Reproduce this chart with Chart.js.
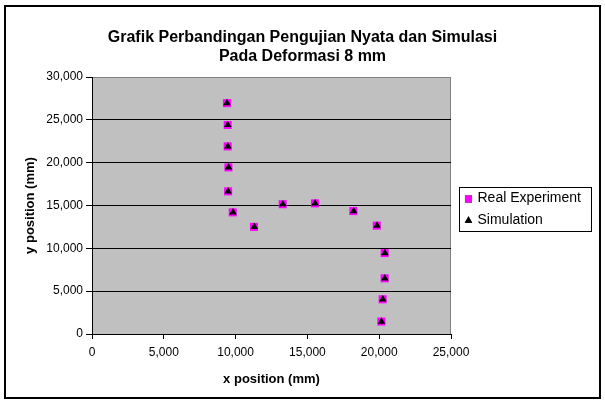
<!DOCTYPE html>
<html>
<head>
<meta charset="utf-8">
<script src="https://cdn.jsdelivr.net/npm/chart.js@4"></script>
<style>
  html, body { margin: 0; padding: 0; background: #fff; }
  #wrap { width: 605px; height: 402px; }
</style>
</head>
<body>
<div id="wrap"><canvas id="chart" width="605" height="402"></canvas></div>
<script>
// Data (mm)
const realX = [9400, 9450, 9450, 9500, 9480, 9800, 11280, 13280, 15530, 18200, 19830, 20380, 20380, 20240, 20150];
const realY = [26950, 24400, 21900, 19450, 16650, 14200, 12500, 15150, 15250, 14350, 12650, 9450, 6500, 4050, 1450];
const simX = [9400, 9450, 9460, 9510, 9480, 9820, 11300, 13290, 15540, 18220, 19850, 20400, 20390, 20250, 20160];
const simY = [26950, 24400, 21900, 19450, 16650, 14200, 12500, 15150, 15250, 14350, 12650, 9450, 6500, 4050, 1450];
const seriesNames = ['Real Experiment', 'Simulation'];
const titleLines = ['Grafik Perbandingan Pengujian Nyata dan Simulasi', 'Pada Deformasi 8 mm'];
const xTitle = 'x position (mm)';
const yTitle = 'y position (mm)';

const FONT = '"Liberation Sans", Arial, sans-serif';
const toPoints = (xs, ys) => xs.map((x, i) => ({ x: x, y: ys[i] }));
const fmt = v => Number(v).toLocaleString('en-US');

// background of plot, outer frame and boxed legend
const frame = {
    id: 'frame',
    beforeDraw(chart) {
        const { ctx, chartArea: a } = chart;
        ctx.save();
        ctx.fillStyle = '#fff';
        ctx.fillRect(0, 0, chart.width, chart.height);
        ctx.fillStyle = '#c0c0c0';
        ctx.fillRect(a.left, a.top, a.right - a.left, a.bottom - a.top);
        ctx.strokeStyle = '#808080';
        ctx.lineWidth = 1;
        ctx.strokeRect(a.left + 0.5, a.top + 0.5, a.right - a.left - 1, a.bottom - a.top);
        ctx.restore();
    },
    afterDraw(chart) {
        const ctx = chart.ctx;
        ctx.save();
        ctx.strokeStyle = '#000';
        ctx.lineWidth = 2;
        ctx.strokeRect(5, 6, 595, 392);

        // legend, drawn in the same order as the reference
        const bx = 459.5, by = 187.5, bw = 132, bh = 44;
        ctx.lineWidth = 1;
        ctx.strokeRect(bx, by, bw, bh);
        ctx.font = '14px ' + FONT;
        ctx.textBaseline = 'middle';
        const items = [chart.data.datasets[0], chart.data.datasets[1]];
        items.forEach((ds, i) => {
            const cy = by + 11 + i * 21.5;
            Chart.helpers.drawPoint(ctx, {
                pointStyle: ds.pointStyle,
                radius: ds.pointStyle === 'rect' ? 5 : 4.3,
                borderWidth: 0
            }, bx + 9, cy + 0.5);
            ctx.fillStyle = ds.backgroundColor;
            ctx.fill();
            ctx.fillStyle = '#000';
            ctx.fillText(ds.label, bx + 18, cy);
        });
        ctx.restore();
    }
};

new Chart(document.getElementById('chart'), {
    type: 'scatter',
    data: {
        datasets: [
            {
                label: seriesNames[0],
                data: toPoints(realX, realY),
                order: 1,
                pointStyle: 'rect',
                pointRadius: 5.7,
                backgroundColor: '#ff00ff',
                borderWidth: 0
            },
            {
                label: seriesNames[1],
                data: toPoints(simX, simY),
                order: 0,
                pointStyle: 'triangle',
                pointRadius: 4.3,
                backgroundColor: '#000000',
                borderWidth: 0
            }
        ]
    },
    options: {
        responsive: false,
        animation: false,
        events: [],
        layout: { padding: { left: 6, right: 6, top: 6, bottom: 6 } },
        plugins: {
            legend: { display: false },
            tooltip: { enabled: false },
            title: {
                display: true,
                text: titleLines,
                color: '#000',
                font: { family: FONT, size: 16, weight: 'bold', lineHeight: '19px' },
                padding: { top: 22.5, bottom: 10.5 }
            }
        },
        scales: {
            x: {
                type: 'linear',
                position: 'bottom',
                min: 0,
                max: 25000,
                afterFit: s => { s.height = 62; },
                ticks: {
                    stepSize: 5000,
                    color: '#000',
                    padding: 6,
                    maxRotation: 0,
                    font: { family: FONT, size: 12 },
                    callback: v => fmt(v)
                },
                grid: { drawOnChartArea: false, drawTicks: true, tickLength: 5, tickColor: '#000' },
                border: { display: true, color: '#000', width: 1 },
                title: {
                    display: true,
                    text: xTitle,
                    color: '#000',
                    font: { family: FONT, size: 13, weight: 'bold' },
                    padding: { top: 0, bottom: 9 }
                }
            },
            y: {
                type: 'linear',
                position: 'left',
                min: 0,
                max: 30000,
                afterFit: s => { s.width = 86; },
                ticks: {
                    stepSize: 5000,
                    color: '#000',
                    padding: 3,
                    font: { family: FONT, size: 12 },
                    callback: v => fmt(v)
                },
                grid: {
                    color: c => (c.tick && c.tick.value === 30000) ? 'rgba(0,0,0,0)' : '#000',
                    tickColor: '#000',
                    tickLength: 6
                },
                border: { display: true, color: '#000', width: 1 },
                title: {
                    display: true,
                    text: yTitle,
                    color: '#000',
                    font: { family: FONT, size: 13, weight: 'bold' },
                    padding: { top: 17, bottom: 0 }
                }
            },
            // empty right-hand space where the legend sits
            side: {
                type: 'linear',
                position: 'right',
                display: true,
                afterFit: s => { s.width = 148; },
                ticks: { display: false },
                grid: { display: false },
                border: { display: false }
            }
        }
    },
    plugins: [frame]
});
</script>
</body>
</html>
